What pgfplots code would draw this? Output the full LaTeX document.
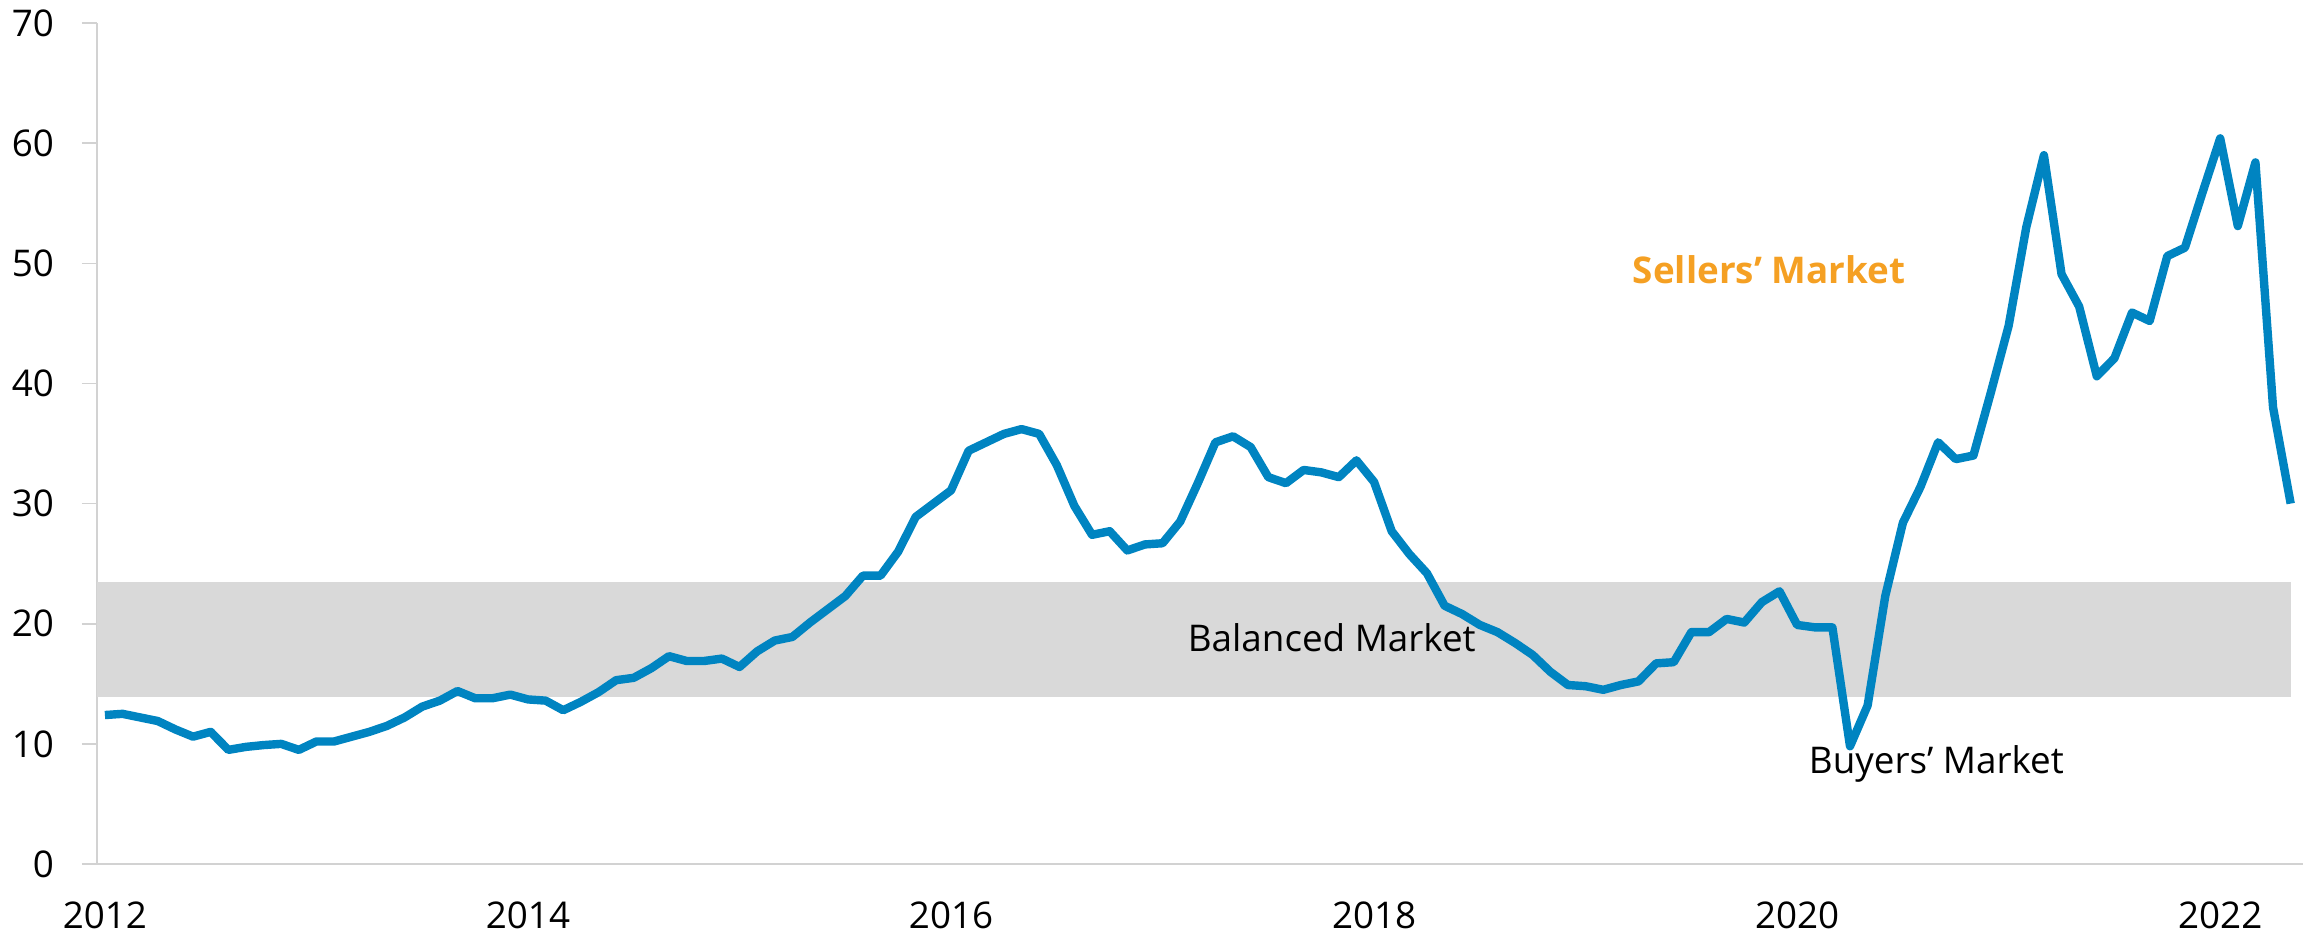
\documentclass[border=0pt]{standalone}
\usepackage{fontspec}
\setmainfont{Open Sans}
\usepackage{pgfplots}
\pgfplotsset{compat=1.18}

\definecolor{lineblue}{RGB}{0,132,193}
\definecolor{sellorange}{RGB}{245,160,35}
\definecolor{bandgray}{RGB}{217,217,217}
\definecolor{axisgray}{RGB}{210,210,210}

% monthly values, x = months since Jan 2012
\pgfplotstableread{
m v
0 12.4
1 12.5
2 12.2
3 11.9
4 11.2
5 10.6
6 11.0
7 9.5
8 9.75
9 9.9
10 10.0
11 9.5
12 10.2
13 10.2
14 10.6
15 11.0
16 11.5
17 12.2
18 13.1
19 13.6
20 14.4
21 13.8
22 13.8
23 14.1
24 13.7
25 13.6
26 12.8
27 13.5
28 14.3
29 15.3
30 15.5
31 16.3
32 17.3
33 16.9
34 16.9
35 17.1
36 16.4
37 17.7
38 18.6
39 18.9
40 20.1
41 21.2
42 22.3
43 24.0
44 24.0
45 26.0
46 28.9
47 30.0
48 31.1
49 34.4
50 35.1
51 35.8
52 36.2
53 35.8
54 33.2
55 29.8
56 27.4
57 27.7
58 26.1
59 26.6
60 26.7
61 28.5
62 31.7
63 35.1
64 35.6
65 34.7
66 32.2
67 31.7
68 32.8
69 32.6
70 32.2
71 33.6
72 31.8
73 27.7
74 25.8
75 24.2
76 21.5
77 20.8
78 19.9
79 19.3
80 18.4
81 17.4
82 16.0
83 14.9
84 14.8
85 14.5
86 14.9
87 15.2
88 16.7
89 16.8
90 19.3
91 19.3
92 20.4
93 20.1
94 21.8
95 22.7
96 19.9
97 19.7
98 19.7
99 9.8
100 13.2
101 22.3
102 28.4
103 31.4
104 35.1
105 33.7
106 34.0
107 39.3
108 44.8
109 53.0
110 59.0
111 49.1
112 46.4
113 40.6
114 42.1
115 45.9
116 45.2
117 50.6
118 51.3
119 55.9
120 60.4
121 53.1
122 58.4
123 38.0
124 30.0
}\ratio

\begin{document}
\begin{tikzpicture}
\begin{axis}[
  scale only axis,
  width=551.5pt, height=210.25pt,
  xmin=-0.45, xmax=124.7,
  ymin=0, ymax=70,
  enlargelimits=false,
  axis lines=left,
  axis line style={-, draw=axisgray, line width=0.4pt},
  xtick={0,24,48,72,96,120},
  xticklabels={2012,2014,2016,2018,2020,2022},
  ytick={0,10,...,70},
  xtick style={draw=none},
  ytick style={draw=axisgray, line width=0.4pt},
  tick align=outside,
  major tick length=3.75pt,
  tick label style={font=\fontsize{9.2}{11}\selectfont, text=black},
  xticklabel style={yshift=-2.2pt},
  yticklabel style={xshift=-3.5pt},
  /pgf/number format/assume math mode=true,
  clip=false,
]
  \addplot[draw=none, fill=bandgray] coordinates {
    (-0.45,13.9) (124,13.9) (124,23.5) (-0.45,23.5)} -- cycle;
  \addplot[lineblue, line width=2.1pt, line join=round] table[x=m, y=v] {\ratio};

  \node[font=\fontsize{9.2}{11}\selectfont] at (axis cs:69.6,18.8) {Balanced Market};
  \node[font=\fontsize{9.2}{11}\selectfont] at (axis cs:103.9,8.3) {Buyers’ Market};
  \node[font=\fontsize{9.2}{11}\selectfont\bfseries, text=sellorange] at (axis cs:94.4,49.5) {Sellers’ Market};

  \coordinate (o) at (rel axis cs:0,0);
\end{axis}
\pgfresetboundingbox
\path[use as bounding box] ([shift={(-24.25pt,-18pt)}]o) rectangle ([shift={(553.25pt,216pt)}]o);
\end{tikzpicture}
\end{document}
